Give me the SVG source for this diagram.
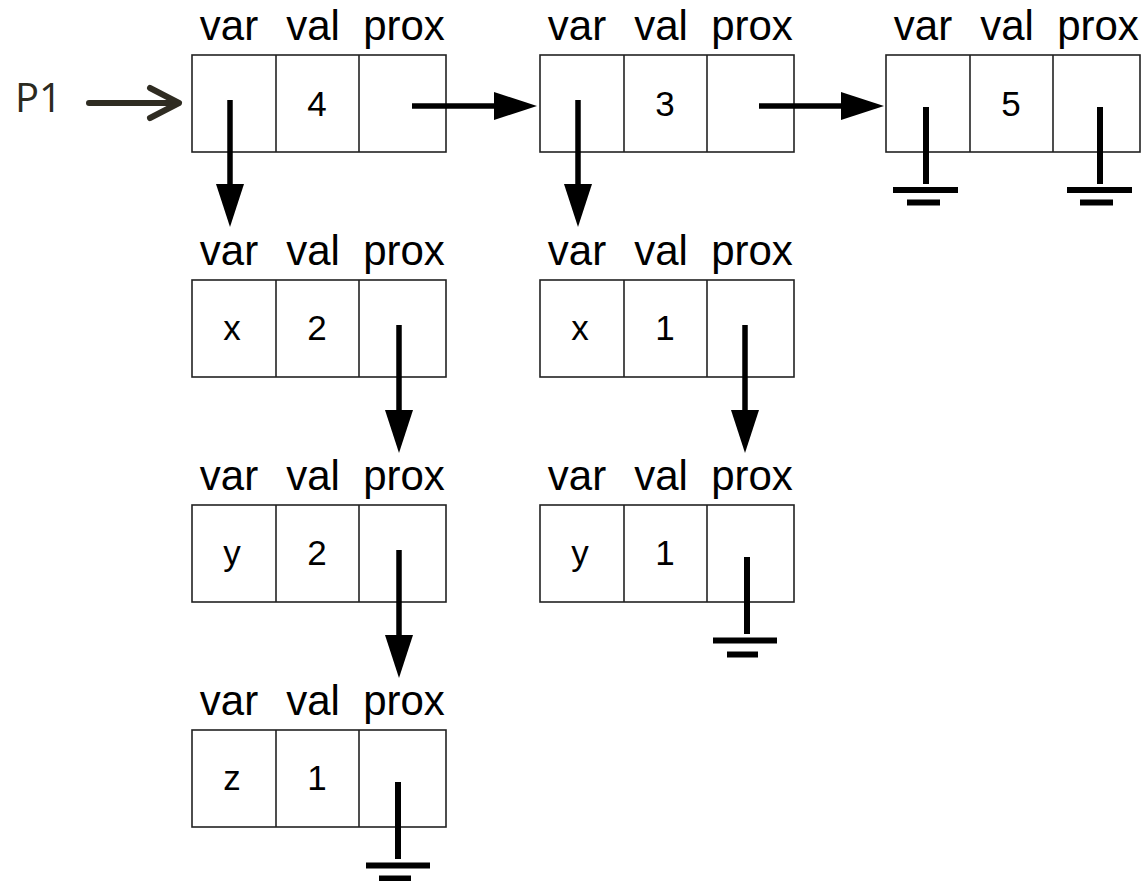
<svg xmlns="http://www.w3.org/2000/svg" width="1147" height="881" viewBox="0 0 1147 881">
<style>
.box{fill:#fff;stroke:#222;stroke-width:1.6}
.div{stroke:#222;stroke-width:1.6}
.lbl{font-family:"Liberation Sans",Arial,sans-serif;font-size:42px;fill:#000;text-anchor:middle}
.val{font-family:"Liberation Sans",Arial,sans-serif;font-size:35px;fill:#000;text-anchor:middle}
.ptr{stroke:#000;stroke-width:5.5;fill:none}
.gnd{stroke:#000;stroke-width:6;fill:none}
</style>
<defs>
<marker id="ah" viewBox="0 -14 43 28" refX="1" refY="0" markerWidth="43" markerHeight="28" markerUnits="userSpaceOnUse" orient="auto">
<path d="M0,-14 L43,0 L0,14 z" fill="#000"/>
</marker>
<g id="cells">
<rect class="box" x="0" y="0" width="254" height="97"/>
<line class="div" x1="84" y1="0" x2="84" y2="97"/>
<line class="div" x1="167" y1="0" x2="167" y2="97"/>
<text class="lbl" x="37" y="-15">var</text>
<text class="lbl" x="121" y="-15">val</text>
<text class="lbl" x="212" y="-15">prox</text>
</g>
</defs>

<g id="p1">
<text x="15" y="112" font-family="'Open Sans','Noto Sans',sans-serif" font-size="40" fill="#2b2a20">P1</text>
<g stroke="#2f2c22" stroke-width="6" stroke-linecap="round" stroke-linejoin="round" fill="none">
<line x1="89" y1="103" x2="178" y2="103"/>
<polyline points="150,88 179,103 150,118"/>
</g>
</g>

<g id="n1" transform="translate(192,55)">
<use href="#cells"/>
<text class="val" x="125" y="61">4</text>
</g>
<g id="n2" transform="translate(540,55)">
<use href="#cells"/>
<text class="val" x="125" y="61">3</text>
</g>
<g id="n3" transform="translate(886,55)">
<use href="#cells"/>
<text class="val" x="125" y="61">5</text>
</g>
<g id="n4" transform="translate(192,280)">
<use href="#cells"/>
<text class="val" x="40" y="60">x</text>
<text class="val" x="125" y="60">2</text>
</g>
<g id="n5" transform="translate(540,280)">
<use href="#cells"/>
<text class="val" x="40" y="60">x</text>
<text class="val" x="125" y="60">1</text>
</g>
<g id="n6" transform="translate(192,505)">
<use href="#cells"/>
<text class="val" x="40" y="60">y</text>
<text class="val" x="125" y="60">2</text>
</g>
<g id="n7" transform="translate(540,505)">
<use href="#cells"/>
<text class="val" x="40" y="60">y</text>
<text class="val" x="125" y="60">1</text>
</g>
<g id="n8" transform="translate(192,730)">
<use href="#cells"/>
<text class="val" x="40" y="60">z</text>
<text class="val" x="125" y="60">1</text>
</g>

<g id="connectors">
<line class="ptr" x1="230" y1="100" x2="230" y2="185" marker-end="url(#ah)"/>
<line class="ptr" x1="412" y1="106" x2="495" y2="106" marker-end="url(#ah)"/>
<line class="ptr" x1="578" y1="100" x2="578" y2="185" marker-end="url(#ah)"/>
<line class="ptr" x1="759" y1="106" x2="842" y2="106" marker-end="url(#ah)"/>
<line class="ptr" x1="399" y1="325" x2="399" y2="411" marker-end="url(#ah)"/>
<line class="ptr" x1="745" y1="325" x2="745" y2="411" marker-end="url(#ah)"/>
<line class="ptr" x1="399" y1="550" x2="399" y2="636" marker-end="url(#ah)"/>
<g class="gnd">
<line x1="926" y1="107" x2="926" y2="184"/>
<line x1="893" y1="190" x2="958" y2="190"/>
<line x1="907" y1="202.5" x2="940" y2="202.5"/>
<line x1="1100" y1="107" x2="1100" y2="184"/>
<line x1="1067" y1="190" x2="1132" y2="190"/>
<line x1="1080" y1="202.5" x2="1113" y2="202.5"/>
<line x1="747" y1="557" x2="747" y2="634"/>
<line x1="713" y1="640.5" x2="777" y2="640.5"/>
<line x1="727" y1="654.5" x2="758" y2="654.5"/>
<line x1="398" y1="782" x2="398" y2="859"/>
<line x1="366" y1="865.5" x2="430" y2="865.5"/>
<line x1="379" y1="878.5" x2="411" y2="878.5"/>
</g>
</g>
</svg>
